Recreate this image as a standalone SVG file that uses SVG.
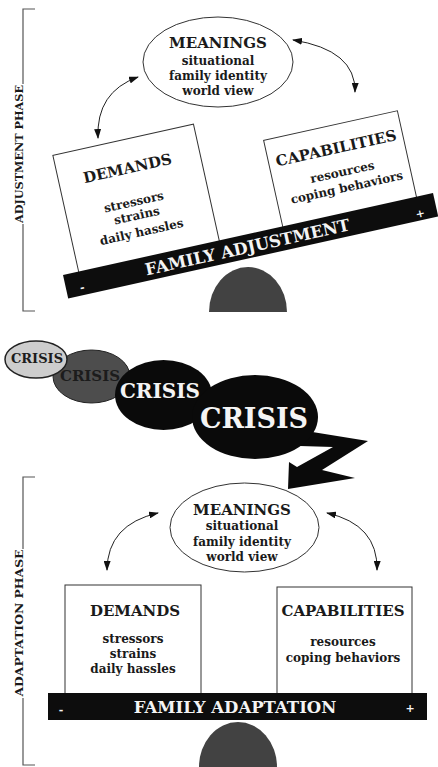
<svg xmlns="http://www.w3.org/2000/svg" width="438" height="767" viewBox="0 0 438 767">
<style>
text{font-family:"DejaVu Serif","Liberation Serif",serif;font-weight:bold;text-anchor:middle}
.hd{font-size:15px;fill:#1a1a1a}
.it{font-size:12px;fill:#1a1a1a}
.bar{fill:#0d0d0d}
.bt{font-size:16.5px;fill:#f4f4f4}
.pm{font-size:11px;fill:#f4f4f4}
.box{fill:#fff;stroke:#333;stroke-width:1}
.ell{fill:#fff;stroke:#333;stroke-width:1}
.ful{fill:#424242}
.br{fill:none;stroke:#555;stroke-width:1.2}
.ph{font-size:11px;fill:#1a1a1a}
.arr{fill:none;stroke:#222;stroke-width:1;marker-start:url(#ah);marker-end:url(#ah)}
</style>
<defs>
<marker id="ah" markerUnits="userSpaceOnUse" markerWidth="10" markerHeight="7" refX="9" refY="3.5" orient="auto-start-reverse">
<path d="M0,0 L10,3.5 L0,7 z" fill="#111"/>
</marker>
</defs>

<g id="adjustment-bracket">
<path class="br" d="M35,9 H23 V84 M23,224 V311 H35"/>
<text class="ph" transform="translate(23,154) rotate(-90)" textLength="138" lengthAdjust="spacingAndGlyphs">ADJUSTMENT PHASE</text>
</g>

<g id="meanings-top">
<ellipse class="ell" cx="218" cy="62" rx="75" ry="45"/>
<text class="hd" x="218" y="47.5">MEANINGS</text>
<text class="it" x="218" y="65">situational</text>
<text class="it" x="218" y="80">family identity</text>
<text class="it" x="218" y="95">world view</text>
</g>

<g id="fulcrum-top">
<path class="ful" d="M209,312 A39,45 0 0 1 287,312 Z"/>
</g>

<g id="demands-top" transform="translate(63,275) rotate(-12.5)">
<rect class="box" x="16" y="-119" width="144" height="121"/>
<text class="hd" x="86" y="-85">DEMANDS</text>
<text class="it" x="85" y="-52">stressors</text>
<text class="it" x="85" y="-38">strains</text>
<text class="it" x="86" y="-21">daily hassles</text>
</g>

<g id="capabilities-top" transform="translate(63,275) rotate(-12.5)">
<rect class="box" x="225" y="-88" width="137" height="90"/>
<text class="hd" x="294" y="-59.5">CAPABILITIES</text>
<text class="it" x="295" y="-36">resources</text>
<text class="it" x="296" y="-20">coping behaviors</text>
</g>

<g id="bar-top" transform="translate(63,275) rotate(-12.5)">
<rect class="bar" x="0" y="0" width="379" height="24"/>
<text class="bt" x="186" y="18.5">FAMILY ADJUSTMENT</text>
<text class="pm" x="16" y="20">-</text>
<text class="pm" x="362" y="21">+</text>
</g>

<g id="crisis">
<ellipse cx="91.5" cy="376.5" rx="38.5" ry="26.5" fill="#4d4d4d" stroke="#222" stroke-width="1"/>
<text x="90" y="380.5" style="font-size:15px;fill:#1c1c1c">CRISIS</text>
<ellipse cx="36" cy="359.5" rx="31" ry="18.5" fill="#cdcdcd" stroke="#222" stroke-width="1.5"/>
<text x="37" y="362.7" style="font-size:13px;fill:#1c1c1c">CRISIS</text>
<ellipse cx="163.5" cy="395" rx="48.5" ry="35" fill="#0a0a0a"/>
<text x="160" y="398" style="font-size:20px;fill:#f4f4f4">CRISIS</text>
<polygon points="300,430 368,441 322,470 355,478 288,489 289,462 297,467 333,447 300,446" fill="#0a0a0a"/>
<ellipse cx="255" cy="417" rx="63" ry="42" fill="#0a0a0a"/>
<text x="254" y="428" style="font-size:27px;fill:#f4f4f4">CRISIS</text>
</g>

<g id="adaptation-bracket">
<path class="br" d="M35,477 H23 V549 M23,698 V765 H35"/>
<text class="ph" transform="translate(23,623) rotate(-90)" textLength="147" lengthAdjust="spacingAndGlyphs">ADAPTATION PHASE</text>
</g>

<g id="meanings-bottom">
<ellipse class="ell" cx="244.5" cy="527.5" rx="74.5" ry="44.5"/>
<text class="hd" x="242" y="514.5">MEANINGS</text>
<text class="it" x="242" y="530">situational</text>
<text class="it" x="242" y="546">family identity</text>
<text class="it" x="242" y="561">world view</text>
</g>

<g id="demands-bottom">
<rect class="box" x="65" y="585" width="136" height="110"/>
<text class="hd" x="135" y="615.5">DEMANDS</text>
<text class="it" x="133" y="643">stressors</text>
<text class="it" x="133" y="658">strains</text>
<text class="it" x="133" y="673">daily hassles</text>
</g>

<g id="capabilities-bottom">
<rect class="box" x="277" y="587" width="135" height="108"/>
<text class="hd" x="343" y="615.5">CAPABILITIES</text>
<text class="it" x="343" y="646">resources</text>
<text class="it" x="343" y="662">coping behaviors</text>
</g>

<g id="fulcrum-bottom">
<path class="ful" d="M199,767 A39,45 0 0 1 277,767 Z"/>
</g>

<g id="bar-bottom">
<rect class="bar" x="48" y="693" width="379" height="27"/>
<text class="bt" x="235" y="713">FAMILY ADAPTATION</text>
<text class="pm" x="61" y="714">-</text>
<text class="pm" x="410" y="712">+</text>
</g>

<g id="connectors">
<path class="arr" d="M138,77 Q96,92 98,138"/>
<path class="arr" d="M293,40 Q356,50 355,92"/>
<path class="arr" d="M158,513 Q107.5,524.5 107,570"/>
<path class="arr" d="M327,513 Q378,524.5 377,570"/>
</g>
</svg>
